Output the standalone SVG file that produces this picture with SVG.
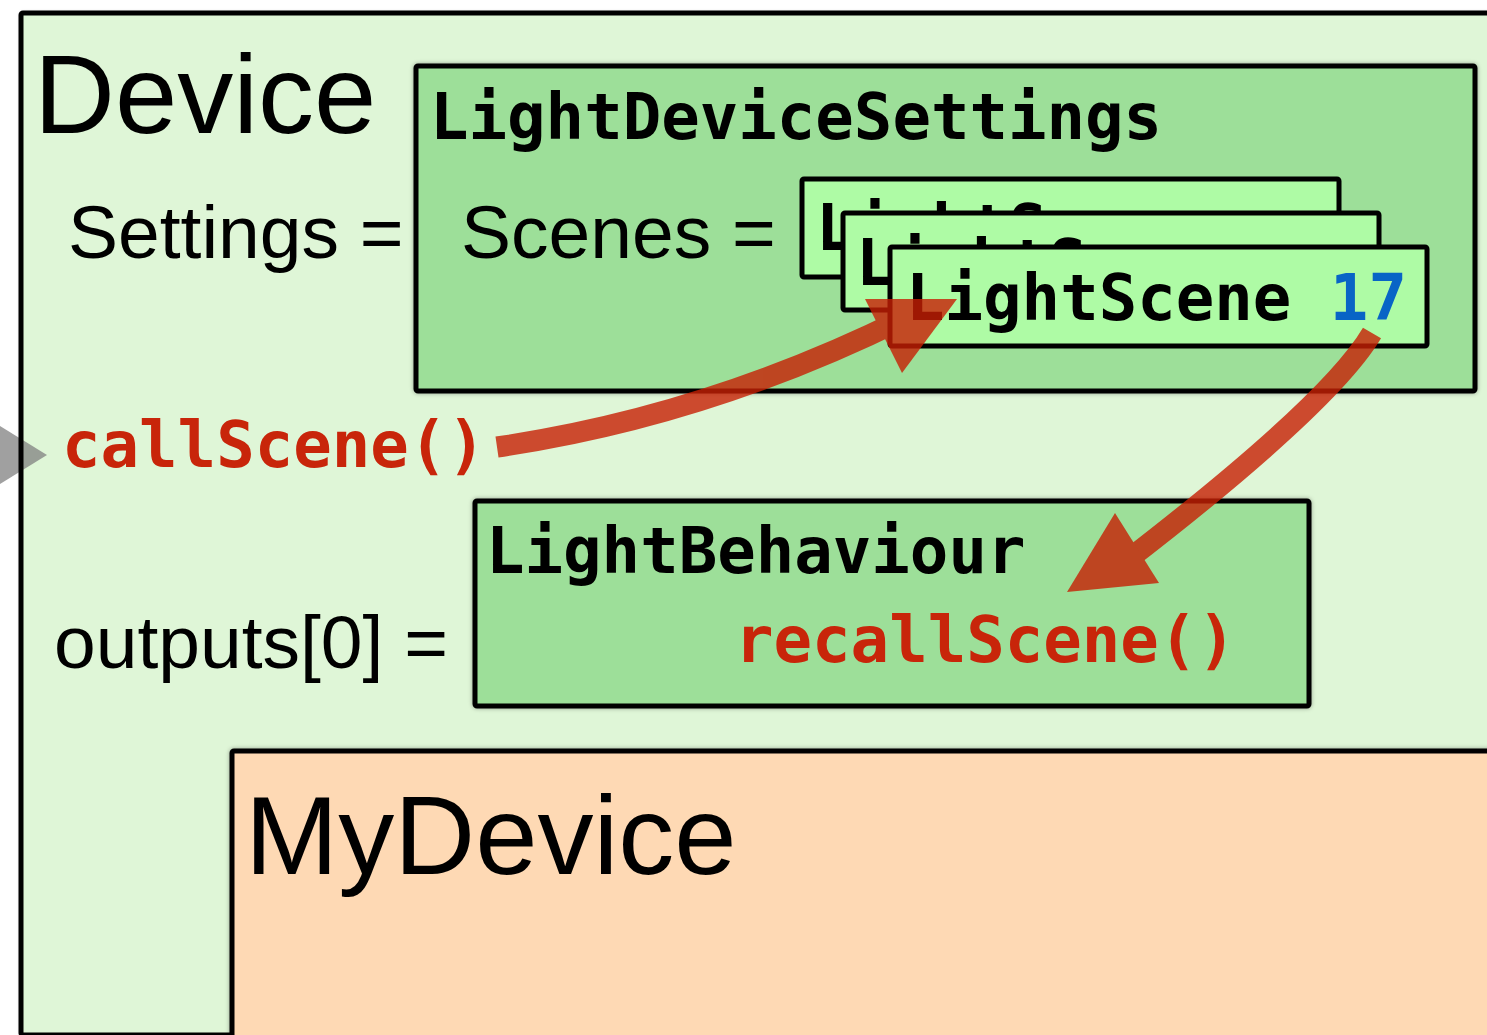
<svg xmlns="http://www.w3.org/2000/svg" width="1487" height="1035" viewBox="0 0 1487 1035">
  <defs>
    <filter id="shadow" x="-5%" y="-5%" width="110%" height="110%">
      <feDropShadow dx="0" dy="0" stdDeviation="2" flood-color="#000" flood-opacity="0.35"/>
    </filter>
    <style>
      .box { stroke: #000; stroke-width: 5; stroke-linejoin: round; }
      .device { fill: #dff6d7; }
      .settings { fill: #9ddf99; }
      .scene { fill: #aefba5; }
      .behaviour { fill: #9ddf99; }
      .mydevice { fill: #fed9b4; }
      .sans { font-family: "Liberation Sans", Arial, Helvetica, sans-serif; fill: #000; }
      .mono { font-family: "DejaVu Sans Mono", "Liberation Mono", monospace; font-weight: bold; font-size: 64px; fill: #000; }
      .call { fill: #c8250a; }
      .num { fill: #0864c6; }
      .shaft { fill: none; stroke: #c71f04; stroke-width: 21; stroke-linecap: butt; }
      .head { fill: #c71f04; }
    </style>
  </defs>

  <rect width="1487" height="1035" fill="#ffffff"/>

  <!-- Device: outer container -->
  <g id="device">
    <rect class="device" x="21" y="13" width="1490" height="1022" rx="2" filter="url(#shadow)"/>
    <!-- incoming call marker on the left edge -->
    <polygon points="-8,421 47,455 -8,489" fill="#808080" fill-opacity="0.75"/>
    <rect class="box" x="21" y="13" width="1490" height="1022" rx="2" fill="none"/>
    <text class="sans" x="34" y="133" font-size="112">Device</text>
    <text class="sans" x="68" y="258" font-size="75">Settings =</text>
    <text class="mono call" x="62" y="467">callScene()</text>
    <text class="sans" x="54" y="668" font-size="75">outputs[0] =</text>
  </g>

  <!-- LightDeviceSettings with its stacked scenes -->
  <g id="light-device-settings">
    <rect class="box settings" x="416" y="66" width="1059" height="325" rx="2" filter="url(#shadow)"/>
    <text class="mono" x="430" y="139">LightDeviceSettings</text>
    <text class="sans" x="461" y="258" font-size="75">Scenes =</text>
  </g>

  <g id="scene-1">
    <rect class="box scene" x="802" y="179" width="537" height="98" rx="2"/>
    <text class="mono" x="816" y="250">LightScene</text>
  </g>
  <g id="scene-2">
    <rect class="box scene" x="843" y="213" width="536" height="97" rx="2"/>
    <text class="mono" x="856" y="285">LightScene</text>
  </g>
  <g id="scene-17">
    <rect class="box scene" x="890" y="247" width="537" height="99" rx="2"/>
    <text class="mono" x="906" y="320">LightScene <tspan class="num">17</tspan></text>
  </g>

  <!-- LightBehaviour -->
  <g id="light-behaviour">
    <rect class="box behaviour" x="475" y="501" width="834" height="205" rx="2" filter="url(#shadow)"/>
    <text class="mono" x="486" y="573">LightBehaviour</text>
    <text class="mono call" x="735" y="662">recallScene()</text>
  </g>

  <!-- MyDevice subclass area -->
  <g id="my-device">
    <rect class="box mydevice" x="232" y="751" width="1300" height="320" rx="2" filter="url(#shadow)"/>
    <text class="sans" x="245" y="874" font-size="112">MyDevice</text>
  </g>

  <!-- Connectors: translucent red call flow arrows -->
  <g id="connectors">
    <g opacity="0.8">
      <path class="shaft" d="M497,447 Q706,416.5 905,318"/>
      <polygon class="head" points="865,299 957,299 902,373"/>
    </g>
    <g opacity="0.8">
      <path class="shaft" d="M1372,333 Q1330,404 1125,562"/>
      <polygon class="head" points="1115,513 1159,583 1067,592"/>
    </g>
  </g>
</svg>
